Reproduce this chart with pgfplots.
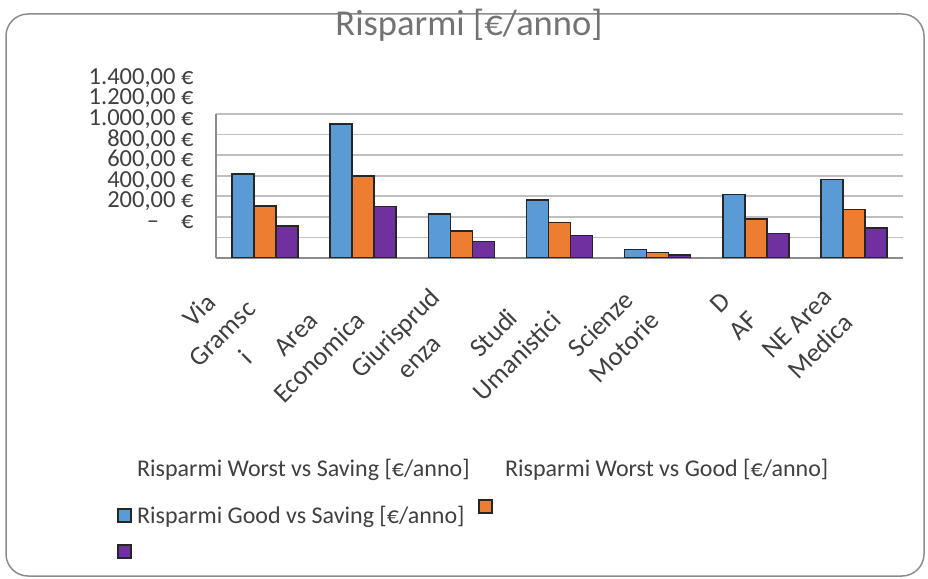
\documentclass[border=0pt]{standalone}
\usepackage{pgfplots}
\pgfplotsset{compat=1.18}
\usepackage{fontspec}
\setmainfont{Carlito}

\definecolor{cblue}{HTML}{5B9BD5}
\definecolor{corange}{HTML}{ED7D31}
\definecolor{cpurple}{HTML}{7030A0}
\definecolor{txt}{HTML}{404040}
\definecolor{gridc}{HTML}{BFBFBF}
\definecolor{framec}{HTML}{8C8C8C}

\begin{document}
\begin{tikzpicture}[x=1pt,y=1pt]
\useasboundingbox (0,0) rectangle (928,578);
% chart frame, title sits on its top edge
\draw[framec, line width=1.5pt, rounded corners=22pt] (6,2) rectangle (924,564);
\node[text=black!55, font=\fontsize{36.5}{40}\selectfont] at (469,553) {Risparmi [€/anno]};

\begin{axis}[
    at={(216pt,320pt)}, anchor=south west,
    scale only axis, width=687pt, height=144pt,
    ybar=0pt, bar width=22pt,
    xmin=-0.5, xmax=6.5, ymin=0, ymax=1400,
    xtick={0,...,6},
    xticklabels={{Via\\Gramsc\\i},{Area\\Economica},{Giurisprud\\enza},{Studi\\Umanistici},{Scienze\\Motorie},{D\\AF},{NE Area\\Medica}},
    ytick={0,200,...,1400},
    yticklabels={{–\hspace{0.9em}€},{200,00 €},{400,00 €},{600,00 €},{800,00 €},{1.000,00 €},{1.200,00 €},{1.400,00 €}},
    axis x line*=bottom, axis y line*=left,
    axis line style={black!45, line width=1.6pt, -},
    major tick length=0pt,
    ymajorgrids, grid style={gridc, line width=1.6pt},
    yticklabel style={text=txt, font=\fontsize{24.5}{25}\selectfont, anchor=east, xshift=-19pt, yshift=36pt},
    xticklabel style={text=txt, font=\fontsize{26.5}{33}\selectfont, xshift=-12pt, yshift=-44pt, rotate=45, anchor=east, align=center},
    every axis plot/.append style={draw=black!85, line width=1.6pt},
]
% Risparmi Worst vs Saving
\addplot[fill=cblue] coordinates {(0,817) (1,1300) (2,425) (3,564) (4,84) (5,619) (6,765)};
% Risparmi Worst vs Good
\addplot[fill=corange] coordinates {(0,508) (1,800) (2,262) (3,347) (4,55) (5,382) (6,470)};
% Risparmi Good vs Saving
\addplot[fill=cpurple] coordinates {(0,314) (1,499) (2,159) (3,217) (4,32) (5,237) (6,292)};
\end{axis}

% legend, laid out as in the original export
\begin{scope}[every node/.style={text=txt, font=\fontsize{24}{26}\selectfont, inner sep=0pt, anchor=west}]
\node at (137,108) {Risparmi Worst vs Saving [€/anno]};
\node at (505,108) {Risparmi Worst vs Good [€/anno]};
\node at (137,61) {Risparmi Good vs Saving [€/anno]};
\end{scope}
\draw[black!85, line width=1.6pt, fill=cblue] (118,56) rectangle (131,69);
\draw[black!85, line width=1.6pt, fill=corange] (479,65) rectangle (492,78);
\draw[black!85, line width=1.6pt, fill=cpurple] (118,20) rectangle (131,33);
\end{tikzpicture}
\end{document}
